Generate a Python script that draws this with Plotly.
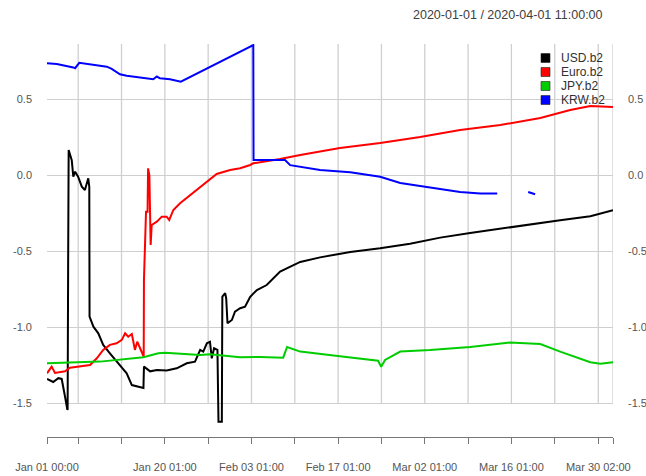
import plotly.graph_objects as go

# ---------------- data ----------------
usd_t = ["2020-01-01 00:00", "2020-01-02 00:00", "2020-01-02 20:00", "2020-01-03 09:00",
         "2020-01-03 22:00", "2020-01-04 07:00", "2020-01-04 08:00", "2020-01-04 10:00",
         "2020-01-04 12:00", "2020-01-05 00:00", "2020-01-05 06:00", "2020-01-05 13:00",
         "2020-01-06 01:00", "2020-01-06 15:00", "2020-01-07 03:00", "2020-01-07 16:00",
         "2020-01-07 20:00", "2020-01-07 21:00", "2020-01-08 12:00", "2020-01-09 07:00",
         "2020-01-10 02:00", "2020-01-11 04:00", "2020-01-12 06:00", "2020-01-13 21:00",
         "2020-01-14 17:00", "2020-01-15 12:00", "2020-01-16 07:00", "2020-01-16 14:00",
         "2020-01-16 16:00", "2020-01-17 16:00", "2020-01-18 18:00", "2020-01-20 08:00",
         "2020-01-21 23:00", "2020-01-23 14:00", "2020-01-24 22:00", "2020-01-25 18:00",
         "2020-01-26 06:00", "2020-01-26 20:00", "2020-01-27 08:00", "2020-01-27 15:00",
         "2020-01-28 00:00", "2020-01-28 13:00", "2020-01-28 17:00", "2020-01-29 06:00",
         "2020-01-29 08:00", "2020-01-29 19:00", "2020-01-29 23:00", "2020-01-30 04:00",
         "2020-01-30 21:00", "2020-01-31 09:00", "2020-02-01 05:00", "2020-02-02 00:00",
         "2020-02-02 20:00", "2020-02-03 22:00", "2020-02-05 12:00", "2020-02-06 14:00",
         "2020-02-07 16:00", "2020-02-10 22:00", "2020-02-14 03:00", "2020-02-19 00:00",
         "2020-02-23 20:00", "2020-02-28 16:00", "2020-03-04 13:00", "2020-03-09 09:00",
         "2020-03-14 06:00", "2020-03-19 02:00", "2020-03-23 22:00", "2020-03-28 19:00",
         "2020-03-30 10:00", "2020-04-01 11:00"]
usd_v = [-1.34, -1.36, -1.335, -1.34,
         -1.457, -1.544, -1.54, -0.59,
         0.167, 0.10, -0.009, 0.024,
         -0.01, -0.075, -0.097, -0.02,
         -0.075, -0.93, -0.996, -1.04,
         -1.116, -1.171, -1.226, -1.303,
         -1.38, -1.39, -1.40, -1.40,
         -1.259, -1.29, -1.281, -1.285,
         -1.27, -1.237, -1.226, -1.149,
         -1.16, -1.105, -1.095, -1.204,
         -1.138, -1.149, -1.621, -1.621,
         -0.799, -0.776, -0.81, -0.974,
         -0.952, -0.897, -0.875, -0.864,
         -0.799, -0.755, -0.722, -0.678,
         -0.634, -0.57, -0.54, -0.505,
         -0.48, -0.45, -0.41, -0.38,
         -0.35, -0.32, -0.295, -0.27,
         -0.25, -0.23]

euro_t = ["2020-01-01 00:00", "2020-01-01 18:00", "2020-01-02 07:00", "2020-01-03 22:00",
          "2020-01-04 17:00", "2020-01-06 08:00", "2020-01-07 23:00", "2020-01-09 01:00",
          "2020-01-10 02:00", "2020-01-11 04:00", "2020-01-12 06:00", "2020-01-13 02:00",
          "2020-01-13 15:00", "2020-01-14 03:00", "2020-01-14 17:00", "2020-01-15 05:00",
          "2020-01-15 14:00", "2020-01-16 01:00", "2020-01-16 15:00", "2020-01-16 16:00",
          "2020-01-17 00:00", "2020-01-17 06:00", "2020-01-17 08:00", "2020-01-17 13:00",
          "2020-01-17 18:00", "2020-01-17 22:00", "2020-01-18 18:00", "2020-01-19 13:00",
          "2020-01-20 08:00", "2020-01-20 18:00", "2020-01-21 10:00", "2020-01-22 12:00",
          "2020-01-24 03:00", "2020-01-25 18:00", "2020-01-27 02:00", "2020-01-28 10:00",
          "2020-01-30 14:00", "2020-02-01 05:00", "2020-02-02 20:00", "2020-02-03 08:00",
          "2020-02-07 16:00", "2020-02-10 22:00", "2020-02-17 08:00", "2020-02-23 20:00",
          "2020-03-01 07:00", "2020-03-07 18:00", "2020-03-14 06:00", "2020-03-20 17:00",
          "2020-03-25 13:00", "2020-03-28 19:00", "2020-04-01 11:00"]
euro_v = [-1.303, -1.259, -1.30, -1.29,
          -1.266, -1.259, -1.248, -1.204,
          -1.149, -1.116, -1.105, -1.083,
          -1.04, -1.062, -1.044, -1.149,
          -1.095, -1.138, -1.193, -0.689,
          -0.24, -0.24, 0.046, 0.0,
          -0.459, -0.327, -0.305, -0.272,
          -0.272, -0.294, -0.228, -0.184,
          -0.13, -0.075, -0.031, 0.009,
          0.035, 0.046, 0.068, 0.079,
          0.107, 0.134, 0.18, 0.213,
          0.252, 0.298, 0.331, 0.377,
          0.43, 0.456, 0.449]

jpy_t = ["2020-01-01 00:00", "2020-01-09 14:00", "2020-01-16 14:00", "2020-01-19 00:00",
         "2020-01-20 02:00", "2020-01-23 01:00", "2020-01-25 18:00", "2020-01-27 08:00",
         "2020-02-01 05:00", "2020-02-04 11:00", "2020-02-08 04:00", "2020-02-08 19:00",
         "2020-02-10 22:00", "2020-02-17 08:00", "2020-02-23 12:00", "2020-02-24 00:00",
         "2020-02-24 15:00", "2020-02-27 02:00", "2020-03-02 22:00", "2020-03-09 09:00",
         "2020-03-15 20:00", "2020-03-20 17:00", "2020-03-23 22:00", "2020-03-28 19:00",
         "2020-03-30 10:00", "2020-04-01 11:00"]
jpy_v = [-1.237, -1.226, -1.197, -1.171,
         -1.167, -1.176, -1.182, -1.178,
         -1.197, -1.195, -1.20, -1.13,
         -1.16, -1.19, -1.22, -1.26,
         -1.215, -1.16, -1.15, -1.13,
         -1.10, -1.11, -1.16, -1.23,
         -1.24, -1.23]

krw_t = ["2020-01-01 00:00", "2020-01-02 14:00", "2020-01-05 06:00", "2020-01-05 13:00",
         "2020-01-06 05:00", "2020-01-07 23:00", "2020-01-10 16:00", "2020-01-11 11:00",
         "2020-01-12 19:00", "2020-01-13 21:00", "2020-01-16 01:00", "2020-01-18 04:00",
         "2020-01-18 18:00", "2020-01-19 06:00", "2020-01-20 21:00", "2020-01-22 15:00",
         "2020-02-03 08:00", "2020-02-03 09:00", "2020-02-08 11:00", "2020-02-09 07:00",
         "2020-02-14 03:00", "2020-02-19 00:00", "2020-02-23 20:00", "2020-02-27 02:00",
         "2020-03-01 07:00", "2020-03-04 13:00", "2020-03-07 18:00", "2020-03-11 00:00",
         "2020-03-13 18:00", "2020-03-16 00:00", "2020-03-18 18:00", "2020-03-19 21:00"]
krw_v = [0.737, 0.732, 0.71, 0.705,
         0.74, 0.73, 0.715, 0.70,
         0.665, 0.655, 0.645, 0.632,
         0.65, 0.638, 0.632, 0.616,
         0.857, 0.10, 0.10, 0.067,
         0.035, 0.02, -0.01, -0.05,
         -0.07, -0.09, -0.11, -0.12,
         -0.12, None, -0.11, -0.125]

series_names = ["USD.b2", "Euro.b2", "JPY.b2", "KRW.b2"]
series_colors = ["#000000", "#FF0000", "#00CD00", "#0000FF"]

x_tick_vals = ["2020-01-01 00:00", "2020-01-06 01:00", "2020-01-13 01:00", "2020-01-20 01:00",
               "2020-01-27 01:00", "2020-02-03 01:00", "2020-02-10 01:00", "2020-02-17 01:00",
               "2020-02-24 01:00", "2020-03-02 01:00", "2020-03-09 01:00", "2020-03-16 01:00",
               "2020-03-23 01:00", "2020-03-30 02:00", "2020-04-01 11:00"]
x_tick_text = ["Jan 01 00:00", "", "", "Jan 20 01:00", "", "Feb 03 01:00", "",
               "Feb 17 01:00", "", "Mar 02 01:00", "", "Mar 16 01:00", "",
               "Mar 30 02:00", ""]
y_tick_vals = [-1.5, -1.0, -0.5, 0.0, 0.5]
y_tick_text = ["-1.5", "-1.0", "-0.5", "0.0", "0.5"]
title_text = "2020-01-01 / 2020-04-01 11:00:00"

# ---------------- figure ----------------
Y_RANGE = [-1.722, 0.864]
X_RANGE = ["2020-01-01 00:00", "2020-04-01 11:00"]
L, R, T, B = 47, 33, 44, 39
W, H = 646, 476
PW, PH = W - L - R, H - T - B

fig = go.Figure()
all_t = [usd_t, euro_t, jpy_t, krw_t]
all_v = [usd_v, euro_v, jpy_v, krw_v]
for name, t, v, c in zip(series_names, all_t, all_v, series_colors):
    fig.add_trace(go.Scatter(x=t, y=v, mode="lines", name=name, showlegend=False,
                             connectgaps=False, line=dict(color=c, width=2)))
# invisible anchor for right-hand axis
fig.add_trace(go.Scatter(x=[X_RANGE[0]], y=[None], yaxis="y2", showlegend=False,
                         hoverinfo="skip", mode="lines"))

shapes = []
for tv in x_tick_vals[1:]:
    shapes.append(dict(type="line", xref="x", yref="y", x0=tv, x1=tv,
                       y0=y_tick_vals[0], y1=Y_RANGE[1], layer="below",
                       line=dict(color="#cfcfcf", width=1.3)))

annotations = [dict(text=title_text, xref="paper", yref="paper",
                    x=(605 - L) / PW, y=1 + (T - 15) / PH, xanchor="right", yanchor="middle",
                    showarrow=False, font=dict(size=12.5, color="#404040"))]

# legend (square keys) drawn in paper coordinates
for i, (name, c) in enumerate(zip(series_names, series_colors)):
    cy = 58 + 14 * i
    shapes.append(dict(type="rect", xref="paper", yref="paper",
                       x0=(541 - L) / PW, x1=(550 - L) / PW,
                       y0=1 - (cy + 4.5 - T) / PH, y1=1 - (cy - 4.5 - T) / PH,
                       fillcolor=c, line=dict(color="#222222", width=0.6)))
    annotations.append(dict(text=name, xref="paper", yref="paper",
                            x=(559 - L) / PW, y=1 - (cy - T) / PH,
                            xanchor="left", yanchor="middle", showarrow=False,
                            font=dict(size=12, color="#303030")))

font_family = "Liberation Sans, Arial, sans-serif"
fig.update_layout(
    width=W, height=H, autosize=False,
    margin=dict(l=L, r=R, t=T, b=B, pad=0, autoexpand=False),
    paper_bgcolor="white", plot_bgcolor="white",
    font=dict(family=font_family, size=11, color="#555555"),
    showlegend=False,
    xaxis=dict(type="date", range=X_RANGE, tickmode="array", tickvals=x_tick_vals,
               ticktext=x_tick_text, showgrid=False, zeroline=False, automargin=False,
               showline=True, linecolor="#777777", linewidth=1,
               ticks="outside", ticklen=6, tickcolor="#777777", tickwidth=1,
               ticklabelstandoff=14, tickfont=dict(size=11, color="#555555")),
    yaxis=dict(range=Y_RANGE, tickmode="array", tickvals=y_tick_vals, ticktext=y_tick_text,
               showgrid=True, gridcolor="#cfcfcf", gridwidth=1.3, zeroline=False,
               showline=False, ticks="", ticklabelstandoff=14, automargin=False,
               tickfont=dict(size=11, color="#555555")),
    yaxis2=dict(range=Y_RANGE, overlaying="y", side="right", tickmode="array",
                tickvals=y_tick_vals, ticktext=y_tick_text, showgrid=False, zeroline=False,
                showline=False, ticks="", ticklabelstandoff=14, automargin=False,
                tickfont=dict(size=11, color="#555555")),
    shapes=shapes, annotations=annotations,
)

fig.write_html("out.html", config={"displayModeBar": False},
               post_script="document.body.style.margin='0';document.body.style.padding='0';")
